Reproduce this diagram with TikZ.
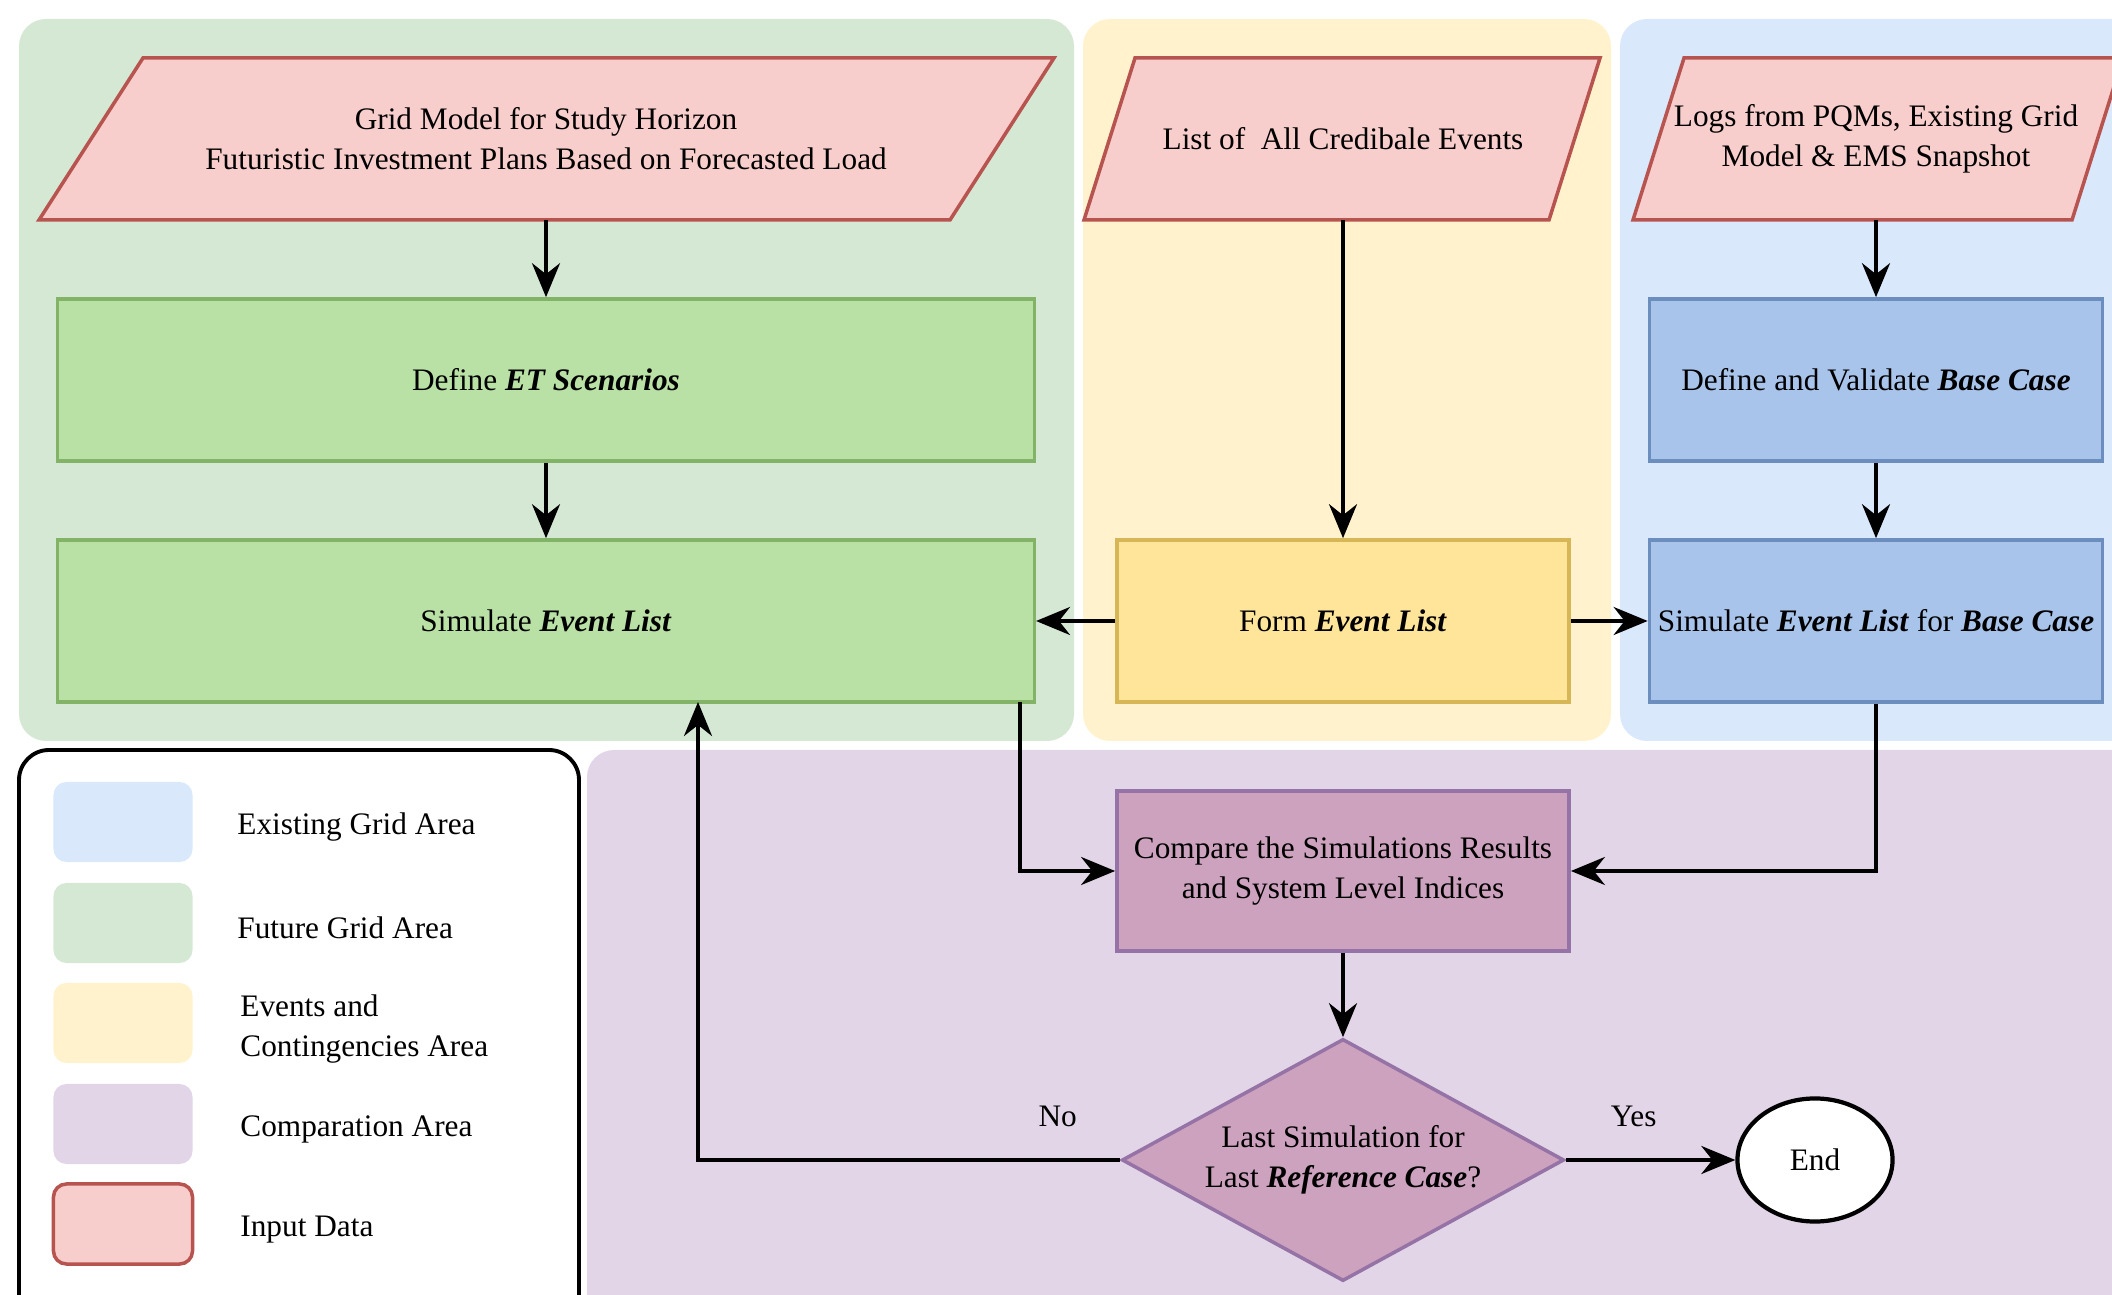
\documentclass[tikz,border=0pt]{standalone}
\usepackage{fontspec}
\setmainfont{Liberation Serif}
\usetikzlibrary{arrows.meta,positioning,shapes.geometric}

\definecolor{greenarea}{HTML}{D5E8D4}
\definecolor{yellowarea}{HTML}{FFF2CC}
\definecolor{bluearea}{HTML}{DAE8FC}
\definecolor{purplearea}{HTML}{E1D5E7}
\definecolor{inpink}{HTML}{F8CECC}
\definecolor{inred}{HTML}{B85450}
\definecolor{greenbox}{HTML}{B9E0A5}
\definecolor{greenline}{HTML}{82B366}
\definecolor{yellowbox}{HTML}{FFE599}
\definecolor{yellowline}{HTML}{D6B656}
\definecolor{bluebox}{HTML}{A9C4EB}
\definecolor{blueline}{HTML}{6C8EBF}
\definecolor{purplebox}{HTML}{CDA2BE}
\definecolor{purpleline}{HTML}{9673A6}

\begin{document}
\begin{tikzpicture}[
    x=0.01cm, y=-0.01cm,
    >=Stealth,
    every node/.style={font=\fontsize{8.9}{11.4}\selectfont},
    area/.style={rounded corners=2.7mm},
    indata/.style={draw=inred, fill=inpink, line width=1pt, line join=miter},
    intext/.style={align=center, inner sep=1pt},
    stepbox/.style={rectangle, draw, line width=1pt, align=center, inner xsep=1pt, minimum height=1.62cm},
    swatch/.style={rectangle, rounded corners=1.3mm, minimum width=1.39cm, minimum height=0.8cm},
    conn/.style={-{Stealth[length=3.4mm,width=2.8mm]}, line width=1pt}
  ]

    \useasboundingbox (0,0) rectangle (2112,1295);
    \clip (0,0) rectangle (2112,1295);

    %=== X(columns) ===%
    \def\xfut{546}
    \def\xev{1343}
    \def\xex{1876}

    %=== areas ===%
    \fill[area, fill=greenarea]  (19,19)   rectangle (1074,741);
    \fill[area, fill=yellowarea] (1083,19) rectangle (1611,741);
    \fill[area, fill=bluearea]   (1620,19) rectangle (2160,741);
    \fill[area, fill=purplearea] (587,750) rectangle (2160,1340);

    %=== legend ===%
    \draw[rounded corners=3mm, fill=white, line width=1.1pt] (19,750) rectangle (579,1340);
    \node[swatch, fill=bluearea]   (lgexist) at (123,822) {};
    \node[swatch, fill=greenarea]  (lgfut)   at (123,923) {};
    \node[swatch, fill=yellowarea] (lgev)    at (123,1023) {};
    \node[swatch, fill=purplearea] (lgcomp)  at (123,1124) {};
    \node[swatch, fill=inpink, draw=inred, line width=1pt] (lgin) at (123,1224) {};
    \node[anchor=west] (lgexisttxt) at (225,827)  {Existing Grid Area};
    \node[anchor=west] (lgfuttxt)   at (225,928)  {Future Grid Area};
    \node[anchor=west, align=left] (lgevtxt) at (228,1029) {Events and\\Contingencies Area};
    \node[anchor=west] (lgcomptxt)  at (228,1129) {Comparation Area};
    \node[anchor=west] (lgintxt)    at (228,1230) {Input Data};

    %=== input data (parallelograms) ===%
    \draw[indata] (39,220) -- (143,58) -- (1054,58) -- (950,220) -- cycle;
    \node[intext] (gridin) at (\xfut,139)
      {Grid Model for Study Horizon\\Futuristic Investment Plans Based on Forecasted Load};
    \coordinate (gridinbot) at (\xfut,220);

    \draw[indata] (1084,220) -- (1135,58) -- (1600,58) -- (1549,220) -- cycle;
    \node[intext] (eventsin) at (\xev,139) {List of \ All Credibale Events};
    \coordinate (eventsinbot) at (\xev,220);

    \draw[indata] (1633,220) -- (1684,58) -- (2123,58) -- (2072,220) -- cycle;
    \node[intext] (logsin) at (\xex,139) {Logs from PQMs, Existing Grid\\Model \& EMS Snapshot};
    \coordinate (logsinbot) at (\xex,220);

    %=== future grid ===%
    \node[stepbox, draw=greenline, fill=greenbox, minimum width=9.76cm] (etdef) at (\xfut,380)
      {Define \textbf{\textit{ET Scenarios}}};
    \node[stepbox, draw=greenline, fill=greenbox, minimum width=9.76cm] (simfut) at (\xfut,621)
      {Simulate \textbf{\textit{Event List}}};

    %=== events ===%
    \node[stepbox, draw=yellowline, fill=yellowbox, minimum width=4.52cm] (formev) at (\xev,621)
      {Form \textbf{\textit{Event List}}};

    %=== existing grid ===%
    \node[stepbox, draw=blueline, fill=bluebox, minimum width=4.53cm] (basedef) at (\xex,380)
      {Define and Validate \textbf{\textit{Base Case}}};
    \node[stepbox, draw=blueline, fill=bluebox, minimum width=4.53cm] (simbase) at (\xex,621)
      {Simulate \textbf{\textit{Event List}} for \textbf{\textit{Base Case}}};

    %=== comparation ===%
    \node[stepbox, draw=purpleline, fill=purplebox, minimum width=4.52cm, minimum height=1.6cm]
      (compare) at (\xev,871) {Compare the Simulations Results\\and System Level Indices};
    \node[diamond, aspect=1.83, draw=purpleline, fill=purplebox, line width=1pt, align=center,
      minimum width=4.42cm, minimum height=2.42cm, inner sep=1pt]
      (lastsim) at (\xev,1160) {Last Simulation for\\Last \textbf{\textit{Reference Case}}?};
    \node[ellipse, draw, fill=white, line width=1.2pt, minimum width=1.55cm, minimum height=1.23cm]
      (endnode) at (1815,1160) {End};

    %=== connectors ===%
    \draw[conn] (gridinbot) -- (etdef);
    \draw[conn] (etdef) -- (simfut);
    \draw[conn] (eventsinbot) -- (formev);
    \draw[conn] (logsinbot) -- (basedef);
    \draw[conn] (basedef) -- (simbase);
    \draw[conn] (formev) -- (simfut);
    \draw[conn] (formev) -- (simbase);

    \coordinate (simout) at (1020,702);
    \draw[conn] (simout) |- (compare);
    \draw[conn] (simbase) |- (compare);
    \draw[conn] (compare) -- (lastsim);
    \draw[conn] (lastsim) -- (endnode) node[pos=0.4, above=2mm] {Yes};

    \coordinate (simin) at (698,702);
    \draw[conn] (lastsim) -| (simin) node[pos=0.074, above=2mm] {No};

  \end{tikzpicture}
\end{document}
